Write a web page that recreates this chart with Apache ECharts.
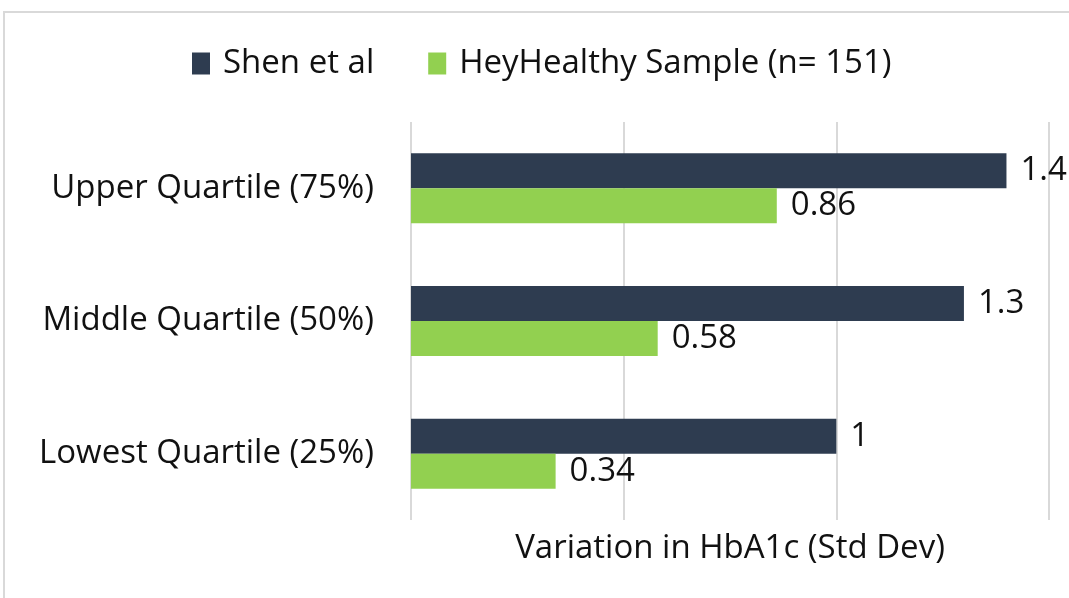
<!DOCTYPE html>
<html><head><meta charset="utf-8">
<script src="https://cdn.jsdelivr.net/npm/echarts@6/dist/echarts.min.js"></script>
<style>html,body{margin:0;padding:0;background:#fff}#c{width:1069px;height:598px}</style>
</head><body><div id="c"></div>
<script>
const categories = ['Lowest Quartile (25%)', 'Middle Quartile (50%)', 'Upper Quartile (75%)'];
const shenValues = [1, 1.3, 1.4];
const heyValues = [0.34, 0.58, 0.86];
const seriesNames = ['Shen et al', 'HeyHealthy Sample (n= 151)'];
const axisName = 'Variation in HbA1c (Std Dev)';
const FONT = 'Open Sans';
const FS = 33;
const chart = echarts.init(document.getElementById('c'), null, {renderer: 'canvas'});
const labelStyle = {show: true, position: 'right', distance: 14, fontFamily: FONT, fontSize: FS, color: '#111'};
chart.setOption({
  animation: false,
  textStyle: {fontFamily: FONT},
  graphic: [{type: 'rect', shape: {x: 4, y: 12, width: 1200, height: 700}, style: {fill: 'none', stroke: '#d9d9d9', lineWidth: 2}, silent: true}],
  legend: {
    left: 187, top: 42, itemWidth: 18, itemHeight: 22, itemGap: 54,
    icon: 'rect',
    textStyle: {fontFamily: FONT, fontSize: FS, color: '#111', padding: [0, 0, 0, 8]},
    data: seriesNames
  },
  grid: {left: 411, right: 20, top: 122, bottom: 78, containLabel: false},
  xAxis: {
    type: 'value', min: 0, max: 1.5, interval: 0.5,
    axisLabel: {show: false}, axisLine: {show: false}, axisTick: {show: false},
    splitLine: {lineStyle: {color: '#d9d9d9', width: 2}},
    name: axisName, nameLocation: 'middle', nameGap: 12,
    nameTextStyle: {fontFamily: FONT, fontSize: FS, color: '#111', verticalAlign: 'top'}
  },
  yAxis: {
    type: 'category', data: categories,
    axisLine: {show: false}, axisTick: {show: false},
    axisLabel: {margin: 37, fontFamily: FONT, fontSize: FS, color: '#111'}
  },
  series: [
    {name: seriesNames[0], type: 'bar', data: shenValues, barWidth: 35, barGap: '0%', itemStyle: {color: '#2E3C50'}, label: labelStyle},
    {name: seriesNames[1], type: 'bar', data: heyValues, barWidth: 35, barGap: '0%', itemStyle: {color: '#92D050'}, label: labelStyle}
  ]
});
</script></body></html>
